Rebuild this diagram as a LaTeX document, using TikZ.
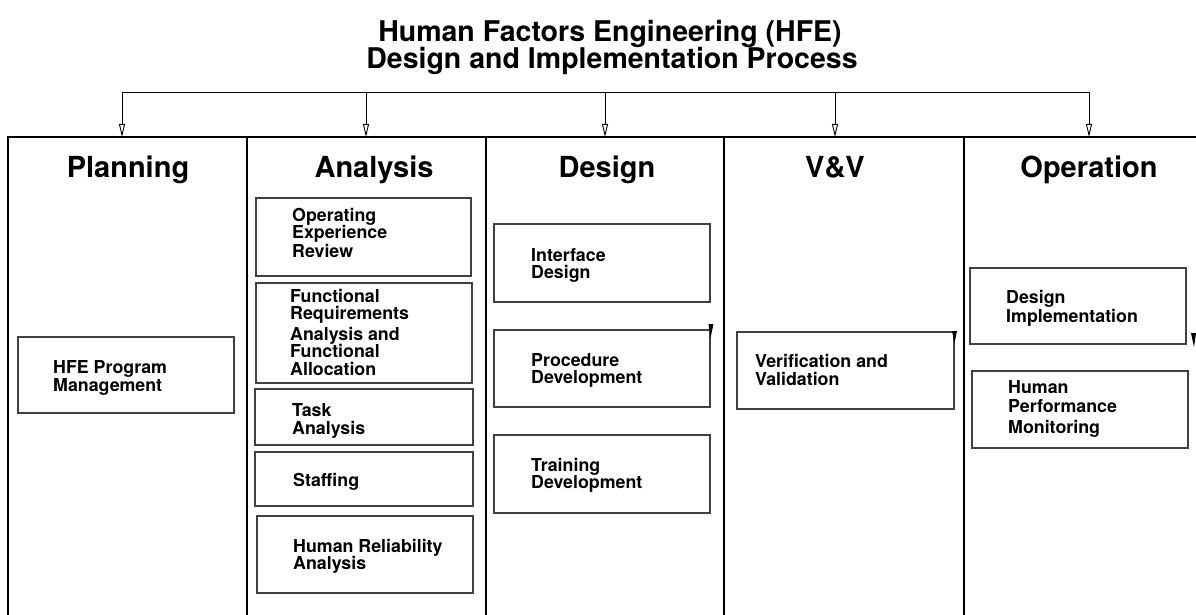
\documentclass[tikz,border=0pt]{standalone}
\usepackage{fontspec}
\setmainfont{TeX Gyre Heros}
\usetikzlibrary{arrows.meta}
\newcommand\pbx[5]{\node[pbox, anchor=north west, minimum width={(#4-#2)*1pt}, minimum height={(#5-#3)*1pt}] (#1) at (#2,#3) {};}
\begin{document}
\begin{tikzpicture}[x=1pt,y=-1pt,
  frame/.style={line width=1.5pt, black},
  feed/.style={line width=0.9pt, -{Triangle[open,length=13pt,width=6pt]}},
  pbox/.style={draw=black!75, line width=1.1pt, inner sep=0pt, outer sep=0pt},
  head/.style={font=\fontsize{29}{31}\selectfont\bfseries, anchor=base, inner sep=0pt},
  ttl/.style={font=\fontsize{28.5}{31}\selectfont\bfseries, anchor=base, inner sep=0pt},
  lbl/.style={font=\fontsize{17.8}{19}\selectfont\bfseries, anchor=base west, inner sep=0pt},
  tick/.style={fill=black, draw=none}]
\useasboundingbox (0,0) rectangle (1196,615);
% title
\node[ttl] (t1) at (610,42) {Human Factors Engineering (HFE)};
\node[ttl] (t2) at (612,69) {Design and Implementation Process};
% frame
\draw[frame] (8,615) -- (8,137) -- (1196,137);
\foreach \x in {247,486,724,964} \draw[frame] (\x,137) -- (\x,615);
% bracket
\coordinate (b1) at (122,92); \coordinate (b2) at (366,92); \coordinate (b3) at (605,92);
\coordinate (b4) at (835,92); \coordinate (b5) at (1089,92);
\coordinate (e1) at (122,137); \coordinate (e2) at (366,137); \coordinate (e3) at (605,137);
\coordinate (e4) at (835,137); \coordinate (e5) at (1089,137);
\draw[line width=0.9pt] (b1) -- (b5);
\foreach \i in {1,...,5} \draw[feed] (b\i) -- (e\i);
% headers
\node[head] (hp) at (128,177) {Planning};
\node[head] (ha) at (374,177) {Analysis};
\node[head] (hd) at (607,177) {Design};
\node[head] (hv) at (835,177) {V\&V};
\node[head] (ho) at (1089,177) {Operation};
% boxes
\pbx{hfe}{18}{337}{234}{413}
\pbx{opex}{256}{198}{471}{276}
\pbx{fra}{256}{283}{472}{383}
\pbx{task}{255}{389}{473}{445}
\pbx{staff}{255}{452}{473}{506}
\pbx{hra}{257}{516}{473}{593}
\pbx{iface}{494}{224}{710}{302}
\pbx{proc}{494}{330}{710}{407}
\pbx{train}{494}{435}{710}{513}
\pbx{vv}{737}{332}{954}{409}
\pbx{dimpl}{970}{268}{1186}{344}
\pbx{hpm}{972}{371}{1188}{448}
% labels
\node[lbl] (l1) at (53,373) {HFE Program};
\node[lbl] (l2) at (53,391) {Management};
\node[lbl] (l3) at (292,221) {Operating};
\node[lbl] (l4) at (292,238) {Experience};
\node[lbl] (l5) at (292,257) {Review};
\node[lbl] (l6) at (290,302) {Functional};
\node[lbl] (l7) at (290,319) {Requirements};
\node[lbl] (l8) at (290,340) {Analysis and};
\node[lbl] (l9) at (290,357) {Functional};
\node[lbl] (l10) at (290,375) {Allocation};
\node[lbl] (l11) at (292,416) {Task};
\node[lbl] (l12) at (292,434) {Analysis};
\node[lbl] (l13) at (293,486) {Staffing};
\node[lbl] (l14) at (293,552) {Human Reliability};
\node[lbl] (l15) at (293,569) {Analysis};
\node[lbl] (l16) at (531,261) {Interface};
\node[lbl] (l17) at (531,278) {Design};
\node[lbl] (l18) at (531,366) {Procedure};
\node[lbl] (l19) at (531,383) {Development};
\node[lbl] (l20) at (531,471) {Training};
\node[lbl] (l21) at (531,488) {Development};
\node[lbl] (l22) at (755,367) {Verification and};
\node[lbl] (l23) at (755,385) {Validation};
\node[lbl] (l24) at (1006,303) {Design};
\node[lbl] (l25) at (1006,322) {Implementation};
\node[lbl] (l26) at (1008,393) {Human};
\node[lbl] (l27) at (1008,412) {Performance};
\node[lbl] (l28) at (1008,433) {Monitoring};
% small marks
\fill[tick] (708.5,324) -- (713.5,324) -- (710.5,338) -- cycle;
\fill[tick] (952,331) -- (957,331) -- (954.5,343) -- cycle;
\fill[tick] (1191,333) -- (1196,333) -- (1194,347) -- cycle;
\end{tikzpicture}
\end{document}
